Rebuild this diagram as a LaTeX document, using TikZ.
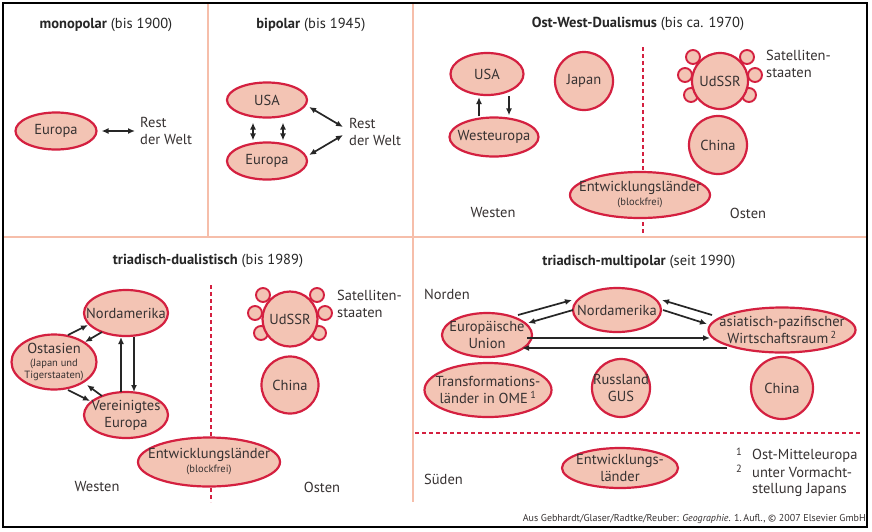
\documentclass[tikz,border=0pt]{standalone}
\usepackage{fontspec}
\setmainfont{PT Sans}
\usetikzlibrary{shapes.geometric,arrows.meta}
\definecolor{salm}{RGB}{243,196,180}
\definecolor{crim}{RGB}{212,32,64}
\definecolor{gridc}{RGB}{246,190,170}
\definecolor{txt}{RGB}{55,50,50}
\newcommand{\lblfont}{\fontsize{14.5}{17}\selectfont}
\newcommand{\smfont}{\fontsize{10.5}{11}\selectfont}
\newcommand{\satring}[1]{%
  \foreach \dx/\dy [count=\k] in {-27/-24,27/-24,-35/-6,35/-6,-29/14,29/14}
    \node[sat] (#1s\k) at ([shift={(\dx,\dy)}]#1) {};}
\begin{document}
\begin{tikzpicture}[x=1pt,y=-1pt,
  ell/.style={ellipse,draw=crim,fill=salm,line width=2.2pt,inner sep=0pt},
  circ/.style={circle,draw=crim,fill=salm,line width=2.2pt,inner sep=0pt},
  sat/.style={circle,draw=crim,fill=salm,line width=1.9pt,minimum size=14pt,inner sep=0pt},
  lin/.style={inner sep=0pt,text=txt,font=\lblfont,align=center},
  lbl/.style={inner sep=0pt,text=txt,font=\lblfont,align=left},
  ttl/.style={inner sep=0pt,text=black!85,font=\lblfont},
  arr/.style={-{Latex[length=7pt,width=6pt]},line width=1.7pt,black!85},
  dbl/.style={{Latex[length=7pt,width=6pt]}-{Latex[length=7pt,width=6pt]},line width=1.7pt,black!85},
  gridl/.style={gridc,line width=2.5pt},
  divl/.style={crim,line width=2pt,dash pattern=on 4pt off 3pt}]
\useasboundingbox (0,0) rectangle (872,531);
\fill[white] (0,0) rectangle (872,531);
% grid lines
\coordinate (g1t) at (208,3); \coordinate (g1b) at (208,237);
\coordinate (g2t) at (413,3); \coordinate (g2b) at (413,502);
\coordinate (hl) at (3,237); \coordinate (hr) at (867,237);
\draw[gridl] (g1t) -- (g1b);
\draw[gridl] (g2t) -- (g2b);
\draw[gridl] (hl) -- (hr);
% dashed dividers
\coordinate (d3t) at (643,47); \coordinate (d3b) at (643,233);
\coordinate (d4t) at (211,285); \coordinate (d4b) at (211,502);
\coordinate (d5l) at (415,433); \coordinate (d5r) at (860,433);
\draw[divl] (d3t) -- (d3b);
\draw[divl] (d4t) -- (d4b);
\draw[divl] (d5l) -- (d5r);
% outer frame
\draw[line width=2.2pt,black] (3,3) rectangle (867,527);

% ---------- panel 1
\node[ttl] (t1) at (106,25) {\textbf{monopolar} (bis 1900)};
\node[ell,minimum width=81pt,minimum height=37pt,label={[lin]center:Europa}] (eu1) at (56,131) {};
\node[lbl,anchor=west] (rw1) at (140,131) {Rest\\der Welt};
\draw[dbl] ([xshift=4pt]eu1.east) -- ([xshift=-5pt]rw1.west);

% ---------- panel 2
\node[ttl] (t2) at (311,25) {\textbf{bipolar} (bis 1945)};
\node[ell,minimum width=80pt,minimum height=35pt,label={[lin]center:USA}] (usa2) at (267,100) {};
\node[ell,minimum width=80pt,minimum height=37pt,label={[lin]center:Europa}] (eu2) at (267,161) {};
\node[lbl,anchor=west] (rw2) at (349,132) {Rest\\der Welt};
\draw[dbl] ([shift={(-14,4)}]usa2.south) -- ([shift={(-14,-1)}]eu2.north);
\draw[dbl] ([shift={(16,4)}]usa2.south) -- ([shift={(16,-1)}]eu2.north);
\draw[dbl] ([shift={(1,7)}]usa2.east) -- ([shift={(-6,-5)}]rw2.west);
\draw[dbl] ([shift={(1,-6)}]eu2.east) -- ([shift={(-6,3)}]rw2.west);

% ---------- panel 3
\node[ttl] (t3) at (638,24) {\textbf{Ost-West-Dualismus} (bis ca. 1970)};
\node[ell,minimum width=73pt,minimum height=42pt,label={[lin]center:USA}] (usa3) at (487,74) {};
\node[ell,minimum width=89pt,minimum height=39pt,label={[lin]center:Westeuropa}] (we3) at (494,137) {};
\draw[arr] ([xshift=-15pt]we3.north) -- ([shift={(-8,1)}]usa3.south);
\draw[arr] ([xshift=22pt]usa3.south) -- ([shift={(15,-1)}]we3.north);
\node[circ,minimum size=58pt,label={[lin]center:Japan}] (jp3) at (584,81) {};
\coordinate (c3) at (720,81);
\satring{c3}
\node[circ,minimum size=56pt,label={[lin]center:UdSSR}] (ud3) at (c3) {};
\node[lbl,anchor=west] (sat3) at (766,64) {Satelliten-\\staaten};
\node[circ,minimum size=58pt,label={[lin]center:China}] (ch3) at (718,145) {};
\node[ell,minimum width=140pt,minimum height=46pt,label={[lin]center:{Entwicklungsländer\\[-3pt]{\smfont (blockfrei)}}}] (el3) at (640,195) {};
\node[lbl] (wn3) at (493,213) {Westen};
\node[lbl] (on3) at (748,213) {Osten};

% ---------- panel 4
\node[ttl] (t4) at (208,261) {\textbf{triadisch-dualistisch} (bis 1989)};
\node[ell,minimum width=84pt,minimum height=46pt,label={[lin]center:Nordamerika}] (na4) at (126,313) {};
\node[ell,minimum width=85pt,minimum height=55pt,label={[lin]center:{Ostasien\\[-4pt]{\smfont (Japan und}\\[-5pt]{\smfont Tigerstaaten)}}}] (oa4) at (54,362) {};
\node[ell,minimum width=84pt,minimum height=46pt,label={[lin]center:{Vereinigtes\\Europa}}] (ve4) at (126,415) {};
\draw[arr] ([shift={(14,-27)}]oa4.center) -- ([shift={(-38,12)}]na4.center);
\draw[arr] ([shift={(-24,19)}]na4.center) -- ([shift={(31,-20)}]oa4.center);
\draw[arr] ([shift={(14,28)}]oa4.center) -- ([shift={(-36,-14)}]ve4.center);
\draw[arr] ([shift={(-24,-19)}]ve4.center) -- ([shift={(33,23)}]oa4.center);
\draw[arr] ([shift={(-5,-23)}]ve4.center) -- ([shift={(-5,24)}]na4.center);
\draw[arr] ([shift={(8,24)}]na4.center) -- ([shift={(8,-23)}]ve4.center);
\coordinate (c4) at (290,319);
\satring{c4}
\node[circ,minimum size=55pt,label={[lin]center:UdSSR}] (ud4) at (c4) {};
\node[lbl,anchor=west] (sat4) at (337,304) {Satelliten-\\staaten};
\node[circ,minimum size=57pt,label={[lin]center:China}] (ch4) at (290,385) {};
\node[ell,minimum width=142pt,minimum height=49pt,label={[lin]center:{Entwicklungsländer\\[-3pt]{\smfont (blockfrei)}}}] (el4) at (209,462) {};
\node[lbl] (wn4) at (97,487) {Westen};
\node[lbl] (on4) at (322,487) {Osten};

% ---------- panel 5
\node[ttl] (t5) at (639,262) {\textbf{triadisch-multipolar} (seit 1990)};
\node[lbl,anchor=west] (nd5) at (424,294) {Norden};
\node[ell,minimum width=88pt,minimum height=44pt,label={[lin]center:Nordamerika}] (na5) at (617,310) {};
\node[ell,minimum width=90pt,minimum height=44pt,label={[lin]center:{Europäische\\Union}}] (eu5) at (487,335) {};
\node[ell,minimum width=147pt,minimum height=45pt,label={[lin]center:{asiatisch-pazifischer\\Wirtschaftsraum\,\textsuperscript{2}}}] (ap5) at (782,330) {};
\draw[arr] ([shift={(31,-20)}]eu5.center) -- ([shift={(-45,-10)}]na5.center);
\draw[arr] ([shift={(-44,0)}]na5.center) -- ([shift={(41,-12)}]eu5.center);
\draw[arr] ([shift={(-70,-15)}]ap5.center) -- ([shift={(45,-10)}]na5.center);
\draw[arr] ([shift={(46,0)}]na5.center) -- ([shift={(-75,-6)}]ap5.center);
\draw[arr] ([shift={(40,3)}]eu5.center) -- ([shift={(-72,8)}]ap5.center);
\draw[arr] ([shift={(-55,18)}]ap5.center) -- ([shift={(35,13)}]eu5.center);
\node[ell,minimum width=127pt,minimum height=54pt,label={[lin]center:{Transformations-\\länder in OME\,\textsuperscript{1}}}] (tr5) at (488,390) {};
\node[circ,minimum size=58pt,label={[lin]center:{Russland\\GUS}}] (ru5) at (621,388) {};
\node[circ,minimum size=62pt,label={[lin]center:China}] (ch5) at (782,388) {};
\node[ell,minimum width=116pt,minimum height=40pt,label={[lin]center:{Entwicklungs-\\länder}}] (el5) at (620,468) {};
\node[lbl,anchor=west] (sd5) at (424,479) {Süden};
\node[inner sep=0pt,text=txt,font=\smfont] (fn1) at (739,452) {1};
\node[inner sep=0pt,text=txt,font=\smfont] (fn2) at (739,469) {2};
\node[lbl,anchor=west] (fa) at (752,456) {Ost-Mitteleuropa};
\node[lbl,anchor=west] (fb) at (752,473) {unter Vormacht-};
\node[lbl,anchor=west] (fc) at (752,490) {stellung Japans};
\node[anchor=east,inner sep=0pt,text=txt,font=\fontsize{10}{11}\selectfont] (cr) at (866,519) {Aus Gebhardt/Glaser/Radtke/Reuber: \textit{Geographie}. 1.\,Aufl., © 2007 Elsevier GmbH};
\end{tikzpicture}
\end{document}
